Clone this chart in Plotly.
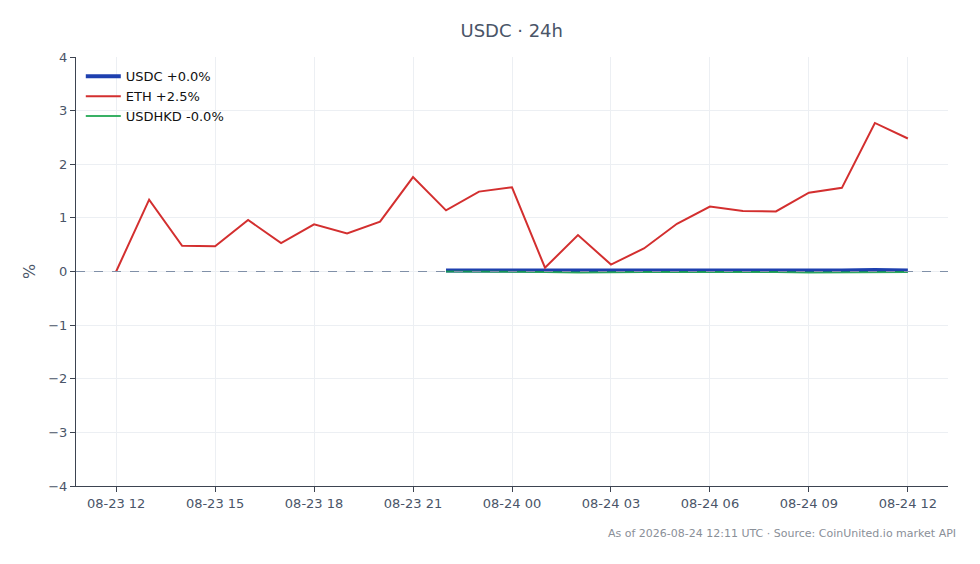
import plotly.graph_objects as go
import pandas as pd

# hourly timestamps
eth_times = pd.date_range("2026-08-23 12:00", "2026-08-24 12:00", freq="h")
stable_times = pd.date_range("2026-08-23 22:00", "2026-08-24 12:00", freq="h")

eth_pct = [0.0, 1.34, 0.48, 0.47, 0.96, 0.53, 0.88, 0.71, 0.93, 1.76, 1.14, 1.49,
           1.57, 0.07, 0.68, 0.13, 0.43, 0.89, 1.21, 1.13, 1.12, 1.47, 1.56, 2.77, 2.48]
usdc_pct = [0.02, 0.02, 0.02, 0.02, 0.01, 0.02, 0.02, 0.02, 0.02, 0.02, 0.02,
            0.02, 0.02, 0.03, 0.02]
usdhkd_pct = [0.0, 0.0, 0.0, -0.01, -0.02, -0.01, -0.01, -0.01, -0.01, 0.0, -0.01,
              -0.02, -0.02, -0.02, -0.01]

font_family = "DejaVu Sans"
text_color = "#4a5568"

fig = go.Figure()
fig.add_trace(go.Scatter(x=stable_times, y=usdc_pct, mode="lines", name="USDC +0.0%",
                         line=dict(color="#1e40af", width=4)))
fig.add_trace(go.Scatter(x=eth_times, y=eth_pct, mode="lines", name="ETH +2.5%",
                         line=dict(color="#d32f2f", width=2)))
fig.add_trace(go.Scatter(x=stable_times, y=usdhkd_pct, mode="lines", name="USDHKD -0.0%",
                         line=dict(color="#16a34a", width=2), opacity=0.85))

# dashed zero reference
fig.add_hline(y=0, line=dict(color="#8090a8", width=1, dash="dash"), layer="above")

fig.update_layout(
    width=980, height=564,
    margin=dict(l=68, r=40, t=49, b=86),
    paper_bgcolor="white", plot_bgcolor="white",
    font=dict(family=font_family, size=13, color=text_color),
    title=dict(text="USDC · 24h", x=0.514, xanchor="center", y=0.959, yanchor="middle",
               font=dict(size=18, color=text_color)),
    legend=dict(x=0.0055, y=0.99, xanchor="left", yanchor="top", itemwidth=35,
                bgcolor="rgba(255,255,255,0)", font=dict(size=13, color="#111")),
    showlegend=True,
)
fig.update_xaxes(
    range=["2026-08-23 10:47", "2026-08-24 13:13"],
    tickformat="%m-%d %H", dtick=3 * 3600 * 1000, tick0="2026-08-23 12:00",
    showgrid=True, gridcolor="#eceff3", showline=True, linecolor="#3d4451",
    ticks="outside", ticklen=5, tickcolor="#3d4451", zeroline=False,
)
fig.update_yaxes(
    range=[-4, 4], dtick=1, title=dict(text="%", standoff=8),
    showgrid=True, gridcolor="#eceff3", showline=True, linecolor="#3d4451",
    ticks="outside", ticklen=5, tickcolor="#3d4451", zeroline=False,
)
fig.add_annotation(text="As of 2026-08-24 12:11 UTC · Source: CoinUnited.io market API",
                   xref="paper", yref="paper", x=1.0115, y=-0.091, xanchor="right",
                   yanchor="top", showarrow=False, font=dict(size=11, color="#8a8f98"))

fig.write_html("out.html")
